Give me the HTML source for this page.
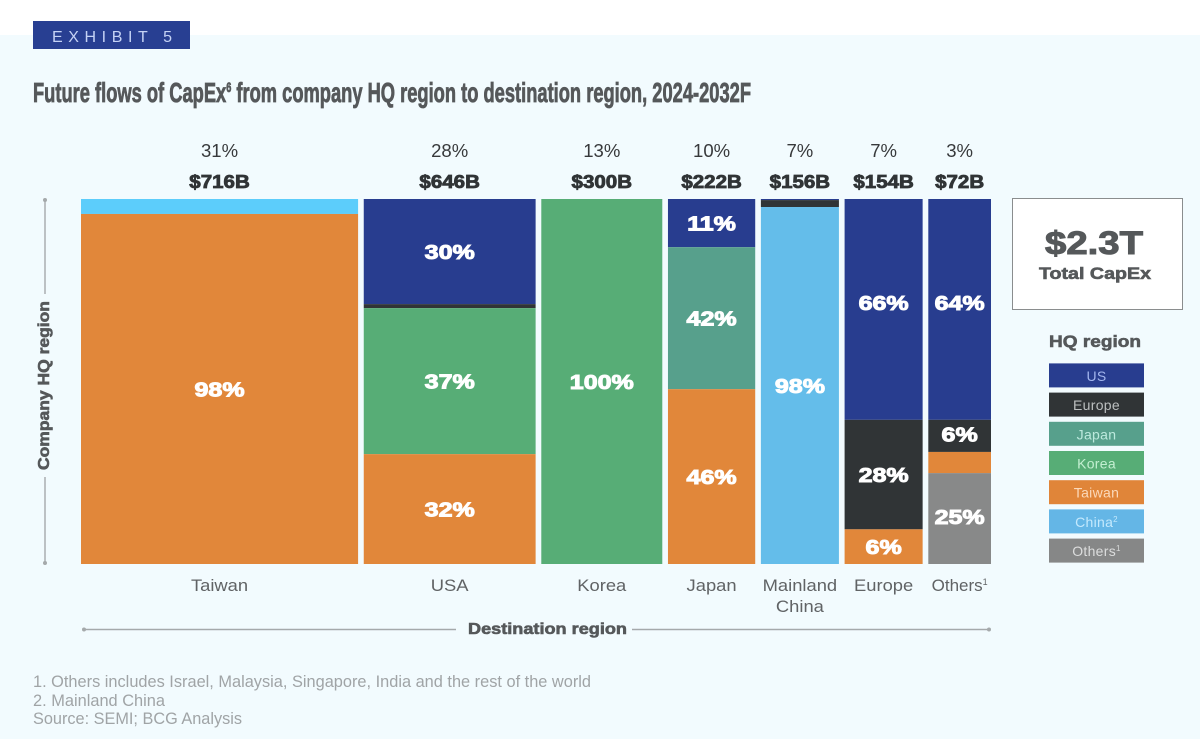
<!DOCTYPE html>
<html lang="en">
<head>
<meta charset="utf-8">
<title>Future flows of CapEx</title>
<style>
html,body{margin:0;padding:0;background:#fff;}
svg{display:block;font-family:"Liberation Sans",sans-serif;}
</style>
</head>
<body>
<svg id="chart" xmlns="http://www.w3.org/2000/svg" width="1200" height="739" viewBox="0 0 1200 739">
  <rect x="0" y="0" width="1200" height="739" fill="#ffffff"/>
  <rect x="0" y="35" width="1200" height="704" fill="#f2fbfe"/>
  <rect x="33" y="21" width="157" height="28" fill="#283f92"/>
  <text x="52" y="42" font-size="16" fill="#c5d2f5" textLength="120" letter-spacing="0">EXHIBIT 5</text>
  <text x="33" y="102" font-size="28" font-weight="bold" fill="#55585a" stroke="#55585a" stroke-width="0.8" textLength="718" lengthAdjust="spacingAndGlyphs">Future flows of CapEx<tspan font-size="14" dy="-10">6</tspan><tspan dy="10"> from company HQ region to destination region, 2024-2032F</tspan></text>

  <g id="plot"></g>

  <g stroke="#a5a9ab" stroke-width="1.4" fill="#a5a9ab">
    <line x1="45" y1="200" x2="45" y2="294"/>
    <line x1="45" y1="477" x2="45" y2="563"/>
    <circle cx="45" cy="200" r="2" stroke="none"/>
    <circle cx="45" cy="563" r="2" stroke="none"/>
  </g>
  <text transform="translate(49,470) rotate(-90)" font-size="15.5" font-weight="bold" fill="#55585a" stroke="#55585a" stroke-width="0.6" textLength="169" lengthAdjust="spacingAndGlyphs">Company HQ region</text>

  <g stroke="#a5a9ab" stroke-width="1.4" fill="#a5a9ab">
    <line x1="84" y1="629.5" x2="456" y2="629.5"/>
    <line x1="632" y1="629.5" x2="989" y2="629.5"/>
    <circle cx="84" cy="629.5" r="2" stroke="none"/>
    <circle cx="989" cy="629.5" r="2" stroke="none"/>
  </g>
  <text x="468" y="634" font-size="15.5" font-weight="bold" fill="#55585a" stroke="#55585a" stroke-width="0.6" textLength="159" lengthAdjust="spacingAndGlyphs">Destination region</text>

  <rect x="1012.5" y="198.5" width="170" height="111" fill="#ffffff" stroke="#8a8d8e" stroke-width="1"/>
  <text x="1094" y="254" text-anchor="middle" font-size="32" font-weight="bold" fill="#55585a" stroke="#55585a" stroke-width="1" textLength="98" lengthAdjust="spacingAndGlyphs">$2.3T</text>
  <text x="1095" y="279" text-anchor="middle" font-size="16.5" font-weight="bold" fill="#55585a" stroke="#55585a" stroke-width="0.6" textLength="112" lengthAdjust="spacingAndGlyphs">Total CapEx</text>

  <text x="1049" y="347" font-size="17" font-weight="bold" fill="#55585a" stroke="#55585a" stroke-width="0.6" textLength="92" lengthAdjust="spacingAndGlyphs">HQ region</text>
  <g id="legend"></g>

  <g font-size="16.5" fill="#a0a4a6">
    <text x="33" y="687" textLength="558" lengthAdjust="spacingAndGlyphs">1. Others includes Israel, Malaysia, Singapore, India and the rest of the world</text>
    <text x="33" y="706" textLength="132" lengthAdjust="spacingAndGlyphs">2. Mainland China</text>
    <text x="33" y="724" textLength="209" lengthAdjust="spacingAndGlyphs">Source: SEMI; BCG Analysis</text>
  </g>
</svg>

<script>
// ---- data ----
const categories = ['Taiwan', 'USA', 'Korea', 'Japan', 'Mainland|China', 'Europe', 'Others'];
const columnShareLabels = ['31%', '28%', '13%', '10%', '7%', '7%', '3%'];
const columnValueLabels = ['$716B', '$646B', '$300B', '$222B', '$156B', '$154B', '$72B'];
// drawn column widths, percent of the plot's bar width
const columnWidths = [31.6, 19.6, 13.8, 9.95, 8.9, 8.9, 7.15];

// drawn segment heights per HQ region, percent of each column
const usValues      = [0, 28.8, 0, 13.2, 0.3, 60.5, 60.5];
const europeValues  = [0, 1.1, 0, 0, 1.9, 30, 8.8];
const japanValues   = [0, 0, 0, 38.9, 0, 0, 0];
const koreaValues   = [0, 40, 100, 0, 0, 0, 0];
const chinaValues   = [4.1, 0, 0, 0, 97.8, 0, 0];
const taiwanValues  = [95.9, 30.1, 0, 47.9, 0, 9.5, 5.8];
const othersValues  = [0, 0, 0, 0, 0, 0, 24.9];

// printed segment labels
const usLabels      = ['', '30%', '', '11%', '', '66%', '64%'];
const europeLabels  = ['', '', '', '', '', '28%', '6%'];
const japanLabels   = ['', '', '', '42%', '', '', ''];
const koreaLabels   = ['', '37%', '100%', '', '', '', ''];
const chinaLabels   = ['', '', '', '', '98%', '', ''];
const taiwanLabels  = ['98%', '32%', '', '46%', '', '6%', ''];
const othersLabels  = ['', '', '', '', '', '', '25%'];

const legendLabels = ['US', 'Europe', 'Japan', 'Korea', 'Taiwan', 'China', 'Others'];

// ---- layout and styling ----
const NS = 'http://www.w3.org/2000/svg';
const plot = document.getElementById('plot');
const legend = document.getElementById('legend');
const PLOT = { left: 81, right: 991, top: 199, bottom: 564, gap: 5.67 };
const stack = [
  { key: 'us', values: usValues, labels: usLabels, color: '#283d8f' },
  { key: 'europe', values: europeValues, labels: europeLabels, color: '#303436' },
  { key: 'japan', values: japanValues, labels: japanLabels, color: '#57a08c' },
  { key: 'korea', values: koreaValues, labels: koreaLabels, color: '#57ad76' },
  { key: 'china', values: chinaValues, labels: chinaLabels, color: '#64bdea' },
  { key: 'taiwan', values: taiwanValues, labels: taiwanLabels, color: '#e1873a' },
  { key: 'others', values: othersValues, labels: othersLabels, color: '#888989' }
];
const legendStyles = {
  US: ['#283d8f', '#a3b6ee'], Europe: ['#303436', '#bcbfc0'], Japan: ['#57a08c', '#bce9dd'],
  Korea: ['#57ad76', '#c3efd1'], Taiwan: ['#e08539', '#fbd9ba'], China: ['#64b6e6', '#c4e9fd'],
  Others: ['#868787', '#dcdddd']
};

// ---- axis functions ----
const widthTotal = columnWidths.reduce((a, b) => a + b, 0);
const barSpace = PLOT.right - PLOT.left - PLOT.gap * (categories.length - 1);
function xStart(i) {
  let sum = 0;
  for (let k = 0; k < i; k++) sum += columnWidths[k];
  return PLOT.left + sum / widthTotal * barSpace + i * PLOT.gap;
}
function colWidth(i) { return columnWidths[i] / widthTotal * barSpace; }
function yPos(pct) { return PLOT.top + pct / 100 * (PLOT.bottom - PLOT.top); }

function addText(parent, str, x, y, size, fill, weight, stretch, strokeW) {
  const t = document.createElementNS(NS, 'text');
  t.textContent = str;
  t.setAttribute('x', x);
  t.setAttribute('y', y);
  t.setAttribute('text-anchor', 'middle');
  t.setAttribute('font-size', size);
  t.setAttribute('fill', fill);
  if (weight) t.setAttribute('font-weight', weight);
  if (strokeW) {
    t.setAttribute('stroke', fill);
    t.setAttribute('stroke-width', strokeW);
  }
  parent.appendChild(t);
  if (stretch) {
    t.setAttribute('textLength', t.getComputedTextLength() * stretch);
    t.setAttribute('lengthAdjust', 'spacingAndGlyphs');
  }
  return t;
}

// ---- marks ----
categories.forEach((cat, i) => {
  const x = xStart(i);
  const w = colWidth(i);
  const cx = x + w / 2;
  const slug = cat.split('|').join('-').toLowerCase();

  const share = addText(plot, columnShareLabels[i], cx, 157, 18, '#37393b', null, 1.03);
  
  

  const val = addText(plot, columnValueLabels[i], cx, 188, 18, '#303436', 'bold', 1.14, 0.8);
  
  

  let cum = 0;
  stack.forEach(s => {
    const v = s.values[i];
    if (!v) return;
    const y0 = yPos(cum);
    const y1 = yPos(cum + v);
    const r = document.createElementNS(NS, 'rect');
    r.setAttribute('x', x);
    r.setAttribute('y', y0);
    r.setAttribute('width', w);
    r.setAttribute('height', y1 - y0);
    r.setAttribute('fill', (s.key === 'china' && i === 0) ? '#5ccdfb' : s.color);
    
    
    plot.appendChild(r);
    cum += v;
  });

  // labels sit above the rects of this column
  cum = 0;
  stack.forEach(s => {
    const v = s.values[i];
    if (!v) return;
    const y0 = yPos(cum);
    const y1 = yPos(cum + v);
    if (s.labels[i]) {
      let shift = (s.key === 'us' && v > 50) ? -7 : 0;
      if (s.key === 'others' || (s.key === 'europe' && v < 10)) shift = -2;
      const lab = addText(plot, s.labels[i], cx, (y0 + y1) / 2 + 7.5 + shift, 20.5, '#ffffff', 'bold', 1.22, 1);
      
      
    }
    cum += v;
  });

  const lines = cat.split('|');
  lines.forEach((line, k) => {
    const c = addText(plot, line, cx, 591 + k * 21, 17, '#606365', null, 1.08);
    
    
    if (line === 'Others') {
      const sup = document.createElementNS(NS, 'tspan');
      sup.textContent = '1';
      sup.setAttribute('font-size', '9');
      sup.setAttribute('dy', '-6');
      c.removeAttribute('textLength');
      c.appendChild(sup);
    }
  });
});

// ---- legend ----
legendLabels.forEach((name, i) => {
  const y = 363.4 + i * 29.2;
  const style = legendStyles[name];
  const r = document.createElementNS(NS, 'rect');
  r.setAttribute('x', 1049);
  r.setAttribute('y', y);
  r.setAttribute('width', 95);
  r.setAttribute('height', 24);
  r.setAttribute('fill', style[0]);
  
  
  legend.appendChild(r);

  const t = addText(legend, name, 1096.5, y + 17.5, 14, style[1], null, null);
  t.setAttribute('letter-spacing', '0.3');
  
  
  if (name === 'China' || name === 'Others') {
    const sup = document.createElementNS(NS, 'tspan');
    sup.textContent = name === 'China' ? '2' : '1';
    sup.setAttribute('font-size', '8');
    sup.setAttribute('dy', '-5');
    t.appendChild(sup);
  }
});
</script>
</body>
</html>
